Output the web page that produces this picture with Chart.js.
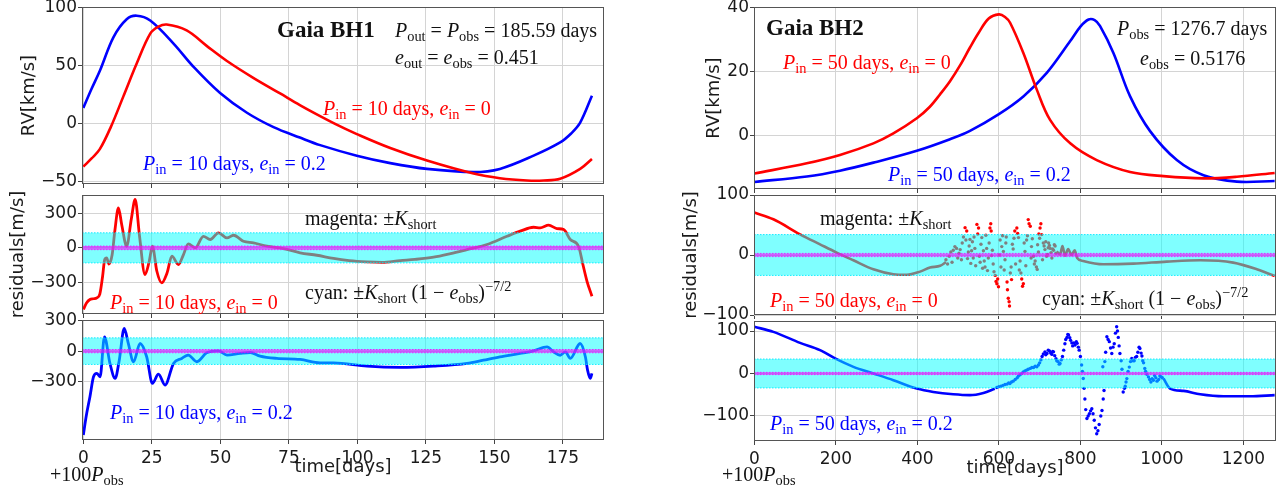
<!DOCTYPE html>
<html>
<head>
<meta charset="utf-8">
<script src="https://cdn.jsdelivr.net/npm/chart.js@4.4.0/dist/chart.umd.min.js"></script>
<style>
  html, body { margin: 0; padding: 0; background: #fff; }
  #wrap { position: relative; width: 1286px; height: 487px; overflow: hidden; }
  #wrap canvas { position: absolute; }
  .note { position: absolute; font-family: "Liberation Serif", "DejaVu Serif", serif; font-size: 20px;
          white-space: nowrap; line-height: 20px; height: 20px; transform: translateY(-50%); }
  .note sub { font-size: 0.72em; vertical-align: -0.3em; line-height: 0; }
  .note sup { font-size: 0.72em; vertical-align: 0.55em; line-height: 0; }
</style>
</head>
<body>
<div id="wrap"></div>
<script>
// ticks
const bh1Ticks = [0, 25, 50, 75, 100, 125, 150, 175];
const bh2Ticks = [0, 200, 400, 600, 800, 1000, 1200];
const bh1RvTicks = [-50, 0, 50, 100];
const bh1ResTicks = [-300, 0, 300];
const bh2RvTicks = [0, 20, 40];
const bh2ResTicks = [-100, 0, 100];

// Gaia BH1 RV [km/s]
const bh1RedRvT = [0, 3, 6, 10, 14.6, 19.5, 24.4, 27.4, 30.4, 37.7, 45, 52.4, 62, 71.8, 79, 86.4, 93, 99.8, 112, 125.4, 142.4, 152, 161.9, 168, 174, 181.3, 185.6];
const bh1RedRvV = [-37, -30, -22, -3, 23.5, 52, 77.5, 83.5, 85.4, 80.3, 67, 54, 39.5, 26, 16, 6.5, -1.5, -9, -21, -31.8, -43, -47, -49, -49, -47.5, -39, -30.4];
const bh1BlueRvT = [0, 3, 6.1, 11, 15.8, 19.5, 24.4, 32.9, 40.2, 49.9, 59.7, 69.4, 79, 86.4, 99.8, 112, 125.4, 142.4, 152, 164.3, 174, 178, 181.3, 185.6];
const bh1BlueRvV = [13.6, 30, 46, 74.6, 90, 93, 88.8, 69, 49, 26.4, 9.4, -3, -12, -18.5, -27.6, -34, -39, -41.7, -39, -27.6, -16.2, -8.5, 0.85, 24];

// Gaia BH1 residuals [m/s]
const bh1RedResT = [0, 1.2, 2.4, 3.7, 4.9, 6.0, 7.0, 7.8, 8.5, 9.3, 10.5, 11.5, 12.8, 14, 15.8, 17.5, 18.9, 20.5, 22.5, 24, 25.2, 26.8, 28.6, 30.5, 32.3, 34.7, 36.5, 38.3, 40.8, 43.8, 46.3, 49.3, 52.4, 54.8, 58.4, 62.1, 67, 73, 79.1, 85.2, 91.3, 97, 103.5, 109, 115.6, 121, 127.8, 134, 140, 147.3, 154.6, 159.4, 164.3, 166.7, 169.8, 172.8, 175.3, 177.7, 180.7, 182.3, 183.8, 185.6];
const bh1RedResV = [-533, -475, -447, -440, -432, -400, -250, -100, -87, -140, -60, 150, 346, 200, 14, 250, 418, 100, -231, -120, 14, -200, -303, -220, -72, -144, -60, 35, 0, 100, 72, 130, 86, 109, 57, 43, 14, -6, -43, -64, -92, -110, -121, -125, -110, -100, -81, -50, -15, 29, 100, 144, 178, 173, 196, 167, 158, 72, 14, -144, -289, -418];
const bh1BlueResT = [0, 1, 2.4, 3.7, 4.9, 6.1, 7.7, 9.7, 11.6, 13.1, 14.9, 16.4, 18.3, 20.7, 23.1, 25.2, 27.4, 29.8, 32.9, 35.9, 38.3, 41.4, 45, 49.3, 52.4, 57.2, 60.9, 64.5, 70.6, 79.1, 86.4, 91.3, 103.5, 115.6, 127.8, 140, 146, 152, 159.4, 164.3, 169.2, 171.6, 174, 175.9, 177.7, 181.3, 183.2, 184, 185, 185.6];
const bh1BlueResV = [-821, -642, -446, -251, -218, -251, 140, -120, -267, -88, 222, 75, -104, 75, -55, -316, -225, -332, -120, -71, -39, -104, -16, 3, -39, -22, -13, -49, -71, -81, -114, -114, -147, -159, -147, -120, -88, -56, -22, 3, 42, -7, -40, -7, -71, 75, -55, -186, -267, -218];

// Gaia BH2 RV [km/s]
const bh2RedRvT = [0, 128.6, 210, 292, 341, 398.5, 430, 456, 480, 505, 529, 550, 575, 600, 615, 627.5, 660, 693, 725.6, 775, 840, 922, 1004, 1102, 1184, 1276.7];
const bh2RedRvV = [-11.7, -8.5, -5.9, -2.3, 0.8, 5.5, 9, 13, 17, 22, 27.5, 32, 36.5, 37.8, 37, 35.2, 25.8, 14.4, 5, -2.3, -7.5, -11.2, -12.5, -13.2, -12.7, -11.5];
const bh2BlueRvT = [0, 128.6, 210, 292, 398.5, 480, 529, 600, 660, 717.5, 775, 800, 820, 835, 848, 881, 922, 971, 1036.6, 1102, 1184, 1276.7];
const bh2BlueRvV = [-14.3, -12.6, -10.8, -8.3, -4.6, -1.0, 1.6, 6.8, 12.3, 19.6, 29.5, 34, 36.2, 36, 34.2, 25.8, 12.3, 1.5, -7.5, -12.2, -14.2, -14];

// Gaia BH2 residuals [m/s]: smooth parts and scattered parts
const bh2RedResT1 = [0, 46.6, 112, 161, 202, 243, 292, 341, 374, 406.6, 431, 456, 470];
const bh2RedResV1 = [70.7, 59.5, 34.5, 17.8, 4, -8.8, -23.8, -32, -33, -27.7, -21, -18, -12];
const bh2RedDotT = [470, 474, 478, 482, 485, 488, 492, 496, 499, 502, 505, 508, 510, 513, 517, 519, 521, 523, 525, 527, 529, 531, 533, 535, 537, 539, 541, 543, 546, 548, 550, 552, 554, 556, 558, 560, 562, 564, 566, 568, 570, 572, 574, 576, 578, 580, 581, 582, 584, 586, 588, 591, 593, 595, 597, 599, 601, 603, 605, 607, 609, 611, 613, 615, 617, 618, 620, 621, 623, 625, 626, 628, 630, 631, 633, 635, 637, 639, 641, 644, 646, 648, 650, 652, 654, 656, 658, 660, 662, 664, 666, 668, 670, 672, 674, 677, 679, 680, 682, 685, 687, 689, 692, 694, 695, 697, 698, 700, 701, 703, 705, 707, 709, 711, 713, 715, 717, 719, 721, 722, 724, 726, 728, 730, 732, 734, 736, 738, 740];
const bh2RedDotV = [-8, -15, -2, 5, -12, 8, 14, 11, -5, 3, 9, -8, 20, 30, 45.6, 25, 40, -6, 5, 15, 26, -14, 7, 22, -5, 30, 11, -18, 51, 35, 45, -2, -12, 18, 29, -22, 7, -10, -20, 33, 11, -26, -5, 20, 45, 52, 40, -1, 8, -15, -28, -34, -44, -48, -40, -53, 0, 25, -20, 14, 32, 6, -25, -8, 20, 30, -45, -58, -72, -78, -85, -30, -20, -41, 18, 10, 28, 40, -15, 45, 36, 29, -25, -10, -30, -40, -52, -48, 20, 6, -18, 25, 32, 59, 52, 48, -5, 14, 27, -2, -15, -10, -20, -24, 17, 5, 35, 28, 45, 52, 34, -8, 20, 15, 9, 22, -2, 1, 12, 20, 16, 11, 4, -5, 10, 8, 17, 15, 3];
const bh2RedResT2 = [742, 750, 756, 762, 770, 778, 786, 792, 807, 856, 930, 1012, 1094, 1175, 1233, 1276.7];
const bh2RedResV2 = [6, 1, 15, -1, 10, 0, 8, -5, -10, -15.5, -14.4, -11, -8.8, -12.7, -23.8, -35];

const bh2BlueResT1 = [0, 46.6, 112, 161, 198, 243, 292, 341, 398.5, 439, 488, 529, 562, 590];
const bh2BlueResV1 = [110, 98, 72, 55, 35.5, 15.6, 0, -15.8, -35.5, -43.5, -49, -51, -45.8, -36];
const bh2BlueDotT = [595, 600, 605, 610, 615, 620, 624, 627, 631, 635, 640, 645, 648, 652, 656, 660, 664, 668, 672, 677, 681, 685, 689, 693, 697, 700, 703, 706, 709, 713, 715, 718, 721, 724, 727, 730, 732, 734, 737, 740, 742, 745, 748, 750, 753, 756, 759, 762, 764, 767, 769, 771, 774, 776, 779, 781, 784, 787, 790, 792, 795, 797, 800, 803, 805, 807, 809, 811, 813, 816, 819, 822, 825, 828, 831, 834, 837, 840, 843, 846, 850, 853, 855, 856, 858, 860, 862, 865, 868, 871, 874, 877, 880, 883, 886, 889, 891, 893, 895, 897, 900, 902, 905, 908, 910, 912, 914, 917, 920, 923, 926, 929, 932, 935, 938, 941, 944, 946, 949, 951, 953, 955, 958, 960, 963, 967, 970, 973, 976, 979, 982, 985, 988, 992, 995, 998, 1001];
const bh2BlueDotV = [-33, -31, -30, -28, -26, -25, -22, -23.6, -20, -18, -14, -10, -6, -3, 0, 3.8, 6, 8, 10, 12, 14, 14, 17, 15.6, 20, 25, 32, 40, 46, 51, 44, 47, 55, 53, 48, 45, 52, 51, 42, 35, 30, 28, 22, 23.6, 32, 40, 55, 70, 80, 85, 92, 90.5, 84, 78, 72, 65, 72, 67, 75, 71, 62, 55, 40, 20, 5, -11.8, -35, -60, -85, -106, -100, -95, -88, -83, -95, -110, -128, -142, -135, -120, -100, -87, 16, -60, -40, 28, 50, 86.5, 80, 75, 60, 47, 62, 70, 95, 110, 100, 85, 65, 47, 30, 10, -43.5, -35, -30, -20, -12, 5, 15, 28, 35.5, 30, 30, 38, 40, 50, 62, 59, 48, 41, 30, 25, 12, 5, -2, -8, -14, -20, -12, -15.8, -5, -10, -18, -14, -6, -8, -10];
const bh2BlueResT2 = [1004, 1020, 1053, 1094, 1151, 1216, 1276.7];
const bh2BlueResV2 = [-11.8, -35.5, -41, -49, -53.7, -53.7, -51];

// band half-widths [m/s]
const bh1Kshort = 16, bh1Kcyan = 130;
const bh2Kshort = 2.7, bh2Kcyan = 34;

// ---------------------------------------------------------------
const pts = (t, v) => t.map((x, i) => ({ x: x, y: v[i] }));

// RV curves: smooth bezier
function curve(t, v, color) {
    return { data: pts(t, v), borderColor: color, borderWidth: 2.6, pointRadius: 0, tension: 0.35, fill: false, order: 5 };
}
// residual tracks
function line(t, v, color, width) {
    return { data: pts(t, v), borderColor: color, borderWidth: width || 2.6, pointRadius: 0,
             cubicInterpolationMode: 'monotone', fill: false, order: 5 };
}
function dots(t, v, color) {
    return { data: pts(t, v), showLine: false, pointRadius: 1.7, pointBorderWidth: 0,
             pointBackgroundColor: color, order: 5 };
}
// band drawn above the data with alpha, so covered points change tone
function band(k, fillColor, edge, xr, order) {
    return [
        { data: [{ x: xr[0], y: k }, { x: xr[1], y: k }], borderColor: edge, borderWidth: 1, borderDash: [1.5, 1.5],
          pointRadius: 0, fill: { value: -k }, backgroundColor: fillColor, order: order },
        { data: [{ x: xr[0], y: -k }, { x: xr[1], y: -k }], borderColor: edge, borderWidth: 1, borderDash: [1.5, 1.5],
          pointRadius: 0, fill: false, order: order },
    ];
}
function bands(ks, kc, xr) {
    return [...band(kc, 'rgba(0,255,255,0.5)', 'rgba(0,230,255,0.9)', xr, 2),
            ...band(ks, 'rgba(255,0,255,0.62)', 'rgba(240,0,255,0.7)', xr, 1)];
}

const bh1X = [-0.5, 190];
const bh2X = [-1, 1280];

const panels = [
    { box: [82, 7, 604, 184], x: bh1X, y: [-52, 100.5], xt: bh1Ticks, yt: bh1RvTicks, yTitle: 'RV[km/s]', yPad: 17,
      sets: [curve(bh1RedRvT, bh1RedRvV, 'red'), curve(bh1BlueRvT, bh1BlueRvV, 'blue')] },
    { box: [82, 195, 604, 314], x: bh1X, y: [-572, 457], xt: bh1Ticks, yt: bh1ResTicks, yTitle: 'residuals[m/s]', yPad: 6,
      sets: [line(bh1RedResT, bh1RedResV, 'red', 2.8), ...bands(bh1Kshort, bh1Kcyan, bh1X)] },
    { box: [82, 320, 604, 440], x: bh1X, y: [-870, 305], xt: bh1Ticks, yt: bh1ResTicks, xTitle: true,
      sets: [line(bh1BlueResT, bh1BlueResV, 'blue', 2.8), ...bands(bh1Kshort, bh1Kcyan, bh1X)] },
    { box: [754, 7, 1276, 189], x: bh2X, y: [-16.5, 40.1], xt: bh2Ticks, yt: bh2RvTicks, yTitle: 'RV[km/s]', yPad: 30,
      sets: [curve(bh2RedRvT, bh2RedRvV, 'red'), curve(bh2BlueRvT, bh2BlueRvV, 'blue')] },
    { box: [754, 195, 1276, 315], x: bh2X, y: [-100, 100], xt: bh2Ticks, yt: bh2ResTicks, yTitle: 'residuals[m/s]', yPad: 7,
      sets: [line(bh2RedResT1, bh2RedResV1, 'red', 2.6), dots(bh2RedDotT, bh2RedDotV, 'red'),
             line(bh2RedResT2, bh2RedResV2, 'red', 2.6), ...bands(bh2Kshort, bh2Kcyan, bh2X)] },
    { box: [754, 321, 1276, 441], x: bh2X, y: [-159, 123.6], xt: bh2Ticks, yt: bh2ResTicks, xTitle: true,
      sets: [line(bh2BlueResT1, bh2BlueResV1, 'blue', 2.6), dots(bh2BlueDotT, bh2BlueDotV, 'blue'),
             line(bh2BlueResT2, bh2BlueResV2, 'blue', 2.6), ...bands(bh2Kshort, bh2Kcyan, bh2X)] },
];

const framePlugin = {
    id: 'frame',
    afterDraw(chart) {
        const a = chart.chartArea, ctx = chart.ctx;
        ctx.save();
        ctx.strokeStyle = '#555';
        ctx.lineWidth = 1;
        ctx.strokeRect(Math.round(a.left) + 0.5, Math.round(a.top) + 0.5, Math.round(a.width) - 1, Math.round(a.height) - 1);
        ctx.restore();
    }
};

const YW = 80, TOP = 12, RIGHT = 12;
const tickFont = { family: 'DejaVu Sans', size: 17 };
const minus = (v) => String(v).replace('-', '\u2212');
const wrap = document.getElementById('wrap');

panels.forEach((p) => {
    const [l, t, r, b] = p.box;
    const xh = p.xTitle ? 52 : 30;
    const cv = document.createElement('canvas');
    cv.width = (r - l) + YW + RIGHT;
    cv.height = (b - t) + TOP + xh;
    cv.style.width = cv.width + 'px';
    cv.style.height = cv.height + 'px';
    cv.style.left = (l - YW) + 'px';
    cv.style.top = (t - TOP) + 'px';
    wrap.appendChild(cv);

    new Chart(cv, {
        type: 'line',
        data: { datasets: p.sets },
        plugins: [framePlugin],
        options: {
            responsive: false,
            animation: false,
            devicePixelRatio: 1,
            layout: { padding: { top: TOP, right: RIGHT, left: 0, bottom: 0 } },
            plugins: { legend: { display: false }, tooltip: { enabled: false } },
            scales: {
                x: {
                    type: 'linear', min: p.x[0], max: p.x[1],
                    afterBuildTicks: (s) => { s.ticks = p.xt.map((v) => ({ value: v })); },
                    afterFit: (s) => { s.height = xh; },
                    grid: { color: '#d4d4d4', tickColor: '#444', tickLength: 4 },
                    border: { display: false },
                    ticks: { display: !!p.xTitle, font: tickFont, color: '#1a1a1a', padding: 4, maxRotation: 0, autoSkip: false,
                             callback: (v) => minus(v) },
                    title: { display: !!p.xTitle, text: 'time[days]', font: { family: 'DejaVu Sans', size: 18 },
                             color: '#1a1a1a', padding: { top: 0, bottom: 14 } },
                },
                y: {
                    min: p.y[0], max: p.y[1],
                    afterBuildTicks: (s) => { s.ticks = p.yt.map((v) => ({ value: v })); },
                    afterFit: (s) => { s.width = YW; },
                    grid: { color: '#d4d4d4', tickColor: '#444', tickLength: 4 },
                    border: { display: false },
                    ticks: { font: tickFont, color: '#1a1a1a', padding: 1, autoSkip: false, callback: (v) => minus(v) },
                    title: { display: !!p.yTitle, text: p.yTitle || '', font: { family: 'DejaVu Sans', size: 18 },
                             color: '#1a1a1a', padding: { top: p.yPad || 0, bottom: 0 } },
                },
            },
        },
    });
});

// text annotations
const Pin = '<i>P</i><sub>in</sub>', ein = '<i>e</i><sub>in</sub>';
const Ks = '<i>K</i><sub>short</sub>', eobs = '<i>e</i><sub>obs</sub>';
const notes = [
    { x: 277, y: 30, html: '<b>Gaia BH1</b>', size: 23 },
    { x: 395, y: 30, html: '<i>P</i><sub>out</sub> = <i>P</i><sub>obs</sub> = 185.59 days' },
    { x: 395, y: 57, html: '<i>e</i><sub>out</sub> = ' + eobs + ' = 0.451' },
    { x: 323, y: 108, html: Pin + ' = 10 days, ' + ein + ' = 0', color: 'red' },
    { x: 143, y: 163, html: Pin + ' = 10 days, ' + ein + ' = 0.2', color: 'blue' },
    { x: 305, y: 218, html: 'magenta: \u00b1' + Ks },
    { x: 305, y: 292, html: 'cyan: \u00b1' + Ks + ' (1 \u2212 ' + eobs + ')<sup>\u22127/2</sup>' },
    { x: 110, y: 302, html: Pin + ' = 10 days, ' + ein + ' = 0', color: 'red' },
    { x: 110, y: 412, html: Pin + ' = 10 days, ' + ein + ' = 0.2', color: 'blue' },
    { x: 50, y: 474, html: '+100<i>P</i><sub>obs</sub>' },
    { x: 766, y: 28, html: '<b>Gaia BH2</b>', size: 23 },
    { x: 1117, y: 28, html: '<i>P</i><sub>obs</sub> = 1276.7 days' },
    { x: 1140, y: 58, html: eobs + ' = 0.5176' },
    { x: 783, y: 62, html: Pin + ' = 50 days, ' + ein + ' = 0', color: 'red' },
    { x: 888, y: 174, html: Pin + ' = 50 days, ' + ein + ' = 0.2', color: 'blue' },
    { x: 820, y: 218, html: 'magenta: \u00b1' + Ks },
    { x: 770, y: 300, html: Pin + ' = 50 days, ' + ein + ' = 0', color: 'red' },
    { x: 1042, y: 298, html: 'cyan: \u00b1' + Ks + ' (1 \u2212 ' + eobs + ')<sup>\u22127/2</sup>' },
    { x: 770, y: 423, html: Pin + ' = 50 days, ' + ein + ' = 0.2', color: 'blue' },
    { x: 722, y: 474, html: '+100<i>P</i><sub>obs</sub>' },
];
notes.forEach((n) => {
    const d = document.createElement('div');
    d.className = 'note';
    d.innerHTML = n.html;
    d.style.left = n.x + 'px';
    d.style.top = n.y + 'px';
    d.style.color = n.color || '#111';
    if (n.size) d.style.fontSize = n.size + 'px';
    wrap.appendChild(d);
});
</script>
</body>
</html>
